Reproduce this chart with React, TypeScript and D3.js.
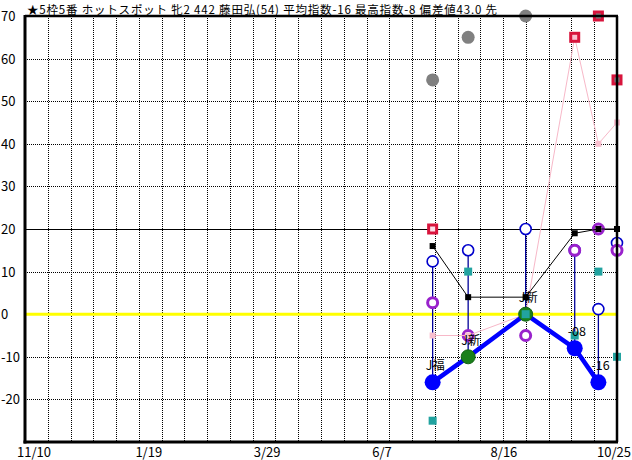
import React from "react";
import * as d3 from "d3";

const titleText = "★5枠5番 ホットスポット 牝2 442 藤田弘(54) 平均指数-16 最高指数-8 偏差値43.0 先";
const axisStart = "2023-11-10";
const axisEnd = "2024-10-25";
const xTickDates = ["2023-11-10", "2024-01-19", "2024-03-29", "2024-06-07", "2024-08-16", "2024-10-25"];
const xTickLabels = ["11/10", "1/19", "3/29", "6/7", "8/16", "10/25"];
const yTicks = [70, 60, 50, 40, 30, 20, 10, 0, -10, -20];
const raceDates = ["2024-07-08", "2024-07-29", "2024-09-01", "2024-09-30", "2024-10-14", "2024-10-25"];
const mainIndex: (number | null)[] = [-16, -10, 0, -8, -16, null];
const mainHighlight = [false, true, true, false, false, false];
const mainLabels: (string | null)[] = ["J福", "J新", "J新", "-08", "-16", null];
const upperVals = [12.4, 15, 20, 15, 1.2, 16.7];
const lowerVals = [-16, -10, 0, -8, -16, -10];
const purpleVals = [2.7, -5, -5, 15, 20, 15];
const tealVals = [-25, 10, 0, -5, 10, -10];
const blackVals = [16, 4, 4, 19, 20, 20];
const pinkVals = [-5, -5, 0, 65, 40, 45];
const grayVals: (number | null)[] = [55, 65, 70, null, 70, 55];
const redVals: (number | null)[] = [20, null, null, 65, 70, 55];

const W = 632, H = 460;
const L = 25, R = 617, T = 16, B = 442;
const FONT = "'Noto Sans CJK JP', 'Noto Sans', sans-serif";

export default function App() {
  const parse = d3.timeParse("%Y-%m-%d");
  const x = d3.scaleTime().domain([parse(axisStart)!, parse(axisEnd)!]).range([L, R]);
  const y = d3.scaleLinear().domain([-30, 70]).range([B, T]);
  const xs = raceDates.map((d) => x(parse(d)!));

  const vGrid = d3.range(1, 26).map((k) => L + ((R - L) * k) / 26);
  const hGrid = yTicks.filter((v) => v !== 70 && v !== 20 && v !== 0);

  const pinkLine = d3.line<number>().x((_, i) => xs[i]).y((v) => y(v))(pinkVals)!;
  const blackLine = d3.line<number>().x((_, i) => xs[i]).y((v) => y(v))(blackVals)!;
  const mainPts = mainIndex.map((v, i) => ({ v, i })).filter((p) => p.v !== null) as { v: number; i: number }[];
  const mainLine = d3.line<{ v: number; i: number }>().x((p) => xs[p.i]).y((p) => y(p.v))(mainPts)!;

  return (
    <svg width={W} height={H} style={{ position: "absolute", left: 0, top: 0, background: "#fff" }} fontFamily={FONT}>
      <rect x={0} y={0} width={W} height={H} fill="#fff" />
      <text x={27} y={13.5} fontSize={11.5} fill="#000" textLength={470} lengthAdjust="spacing">{titleText}</text>

      {/* grid */}
      {vGrid.map((gx, i) => (
        <line key={"v" + i} x1={Math.round(gx) + 0.5} x2={Math.round(gx) + 0.5} y1={T} y2={B} stroke="#000" strokeWidth={1} strokeDasharray="1,1" shapeRendering="crispEdges" />
      ))}
      {hGrid.map((v) => (
        <line key={"h" + v} x1={L} x2={R} y1={Math.round(y(v)) + 0.5} y2={Math.round(y(v)) + 0.5} stroke="#000" strokeWidth={1} strokeDasharray="1,1" shapeRendering="crispEdges" />
      ))}
      <line x1={L} x2={R} y1={Math.round(y(20)) + 0.5} y2={Math.round(y(20)) + 0.5} stroke="#000" strokeWidth={1} shapeRendering="crispEdges" />
      <line x1={L} x2={R} y1={y(0)} y2={y(0)} stroke="#ffff00" strokeWidth={3} />

      {/* y labels */}
      {yTicks.map((v) => (
        <text key={"yl" + v} x={1} y={y(v)} dy="0.38em" fontSize={13} fill="#000">{v}</text>
      ))}
      {/* x labels */}
      {xTickDates.map((d, i) => {
        const last = i === xTickDates.length - 1;
        return (
          <text key={"xl" + i} x={last ? 631 : x(parse(d)!) - 8} y={457} fontSize={13} fill="#000" textAnchor={last ? "end" : "start"}>
            {xTickLabels[i]}
          </text>
        );
      })}

      {/* range lines */}
      {upperVals.map((v, i) => (
        <line key={"rl" + i} x1={xs[i]} x2={xs[i]} y1={y(v)} y2={y(lowerVals[i])} stroke="#000099" strokeWidth={1.3} />
      ))}
      {upperVals.map((v, i) => (
        <circle key={"uc" + i} cx={xs[i]} cy={y(v)} r={5.5} fill="#fff" stroke="#0000cc" strokeWidth={1.6} />
      ))}
      {purpleVals.map((v, i) => (
        <circle key={"pc" + i} cx={xs[i]} cy={y(v)} r={5} fill="#fff" stroke="#9922cc" strokeWidth={3} />
      ))}

      {/* pink series */}
      <path d={pinkLine} fill="none" stroke="#f7b8c8" strokeWidth={1} />
      {pinkVals.map((v, i) => (
        <rect key={"pk" + i} x={xs[i] - 3} y={y(v) - 3} width={6} height={6} fill="#f9bfcf" />
      ))}

      {/* black series */}
      <path d={blackLine} fill="none" stroke="#000" strokeWidth={1} />
      {blackVals.map((v, i) => (
        <rect key={"bk" + i} x={xs[i] - 3} y={y(v) - 3} width={6} height={6} fill="#000" />
      ))}

      {/* main index */}
      <path d={mainLine} fill="none" stroke="#0000ff" strokeWidth={4.5} strokeLinejoin="round" />
      {mainPts.map((p) => (
        mainHighlight[p.i] ? (
          <circle key={"mc" + p.i} cx={xs[p.i]} cy={y(p.v)} r={7} fill="#1a801a" stroke="#146414" strokeWidth={1} />
        ) : (
          <circle key={"mc" + p.i} cx={xs[p.i]} cy={y(p.v)} r={8} fill="#0000ff" />
        )
      ))}

      {/* teal */}
      {tealVals.map((v, i) => (
        <rect key={"tl" + i} x={xs[i] - 4} y={y(v) - 4} width={8} height={8} fill="#22a3a0" />
      ))}

      {/* gray */}
      {grayVals.map((v, i) => (v !== null && redVals[i] !== v ? (
        <circle key={"gy" + i} cx={xs[i]} cy={y(v)} r={6.5} fill="#808080" />
      ) : null))}

      {/* red squares */}
      {redVals.map((v, i) => {
        if (v === null) return null;
        const core = grayVals[i] === v ? "#808080" : pinkVals[i] === v ? "#f9bfcf" : "#fbdde6";
        return <rect key={"rd" + i} x={xs[i] - 4} y={y(v) - 4} width={8} height={8} fill={core} stroke="#d8143c" strokeWidth={3} />;
      })}

      {/* labels */}
      {mainLabels.map((s, i) => (s !== null && mainIndex[i] !== null ? (
        <text key={"lb" + i} x={xs[i] - 7} y={y(mainIndex[i] as number) - 12} fontSize={12.5} fill="#000">{s}</text>
      ) : null))}

      {/* frame */}
      <line x1={L} x2={L} y1={T - 1} y2={B + 1.5} stroke="#000" strokeWidth={3} />
      <line x1={L - 1.5} x2={R + 1} y1={B} y2={B} stroke="#000" strokeWidth={3} />
      <line x1={L} x2={R + 1} y1={T} y2={T} stroke="#000" strokeWidth={2.5} />
      <line x1={R} x2={R} y1={T} y2={B} stroke="#000" strokeWidth={2.5} />
    </svg>
  );
}
